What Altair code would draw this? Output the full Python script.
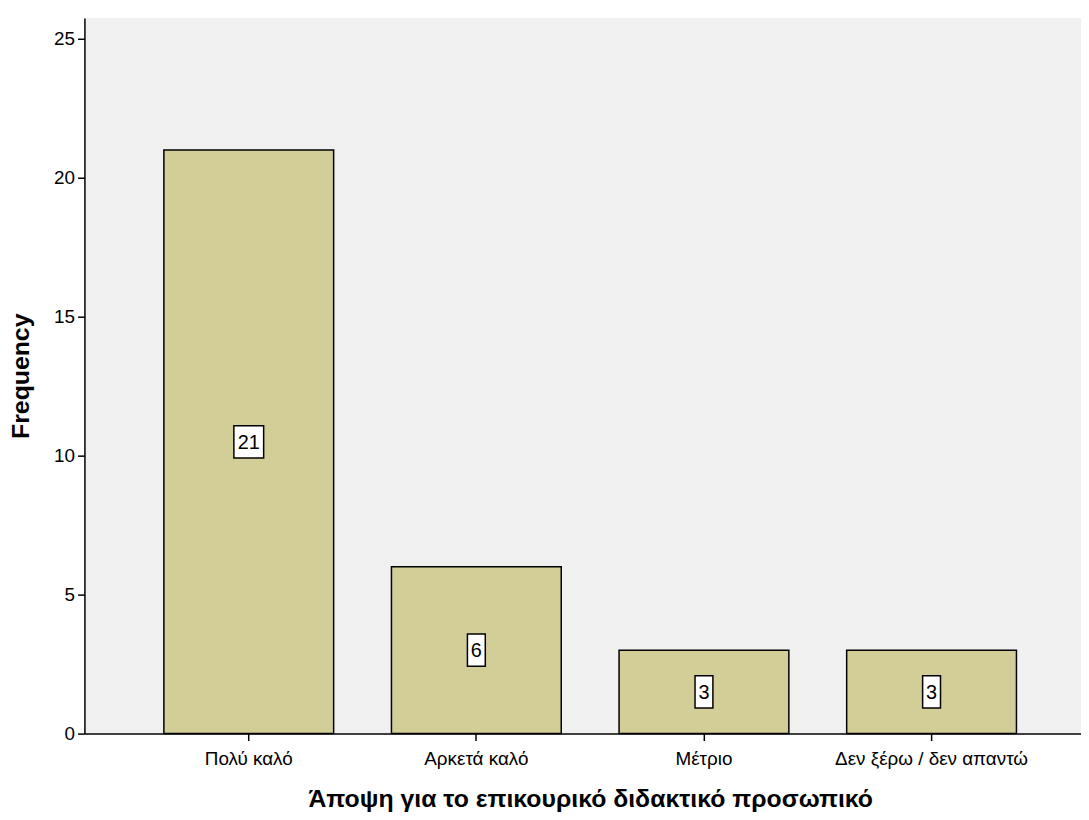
import altair as alt
import pandas as pd

categories = ["Πολύ καλό", "Αρκετά καλό", "Μέτριο", "Δεν ξέρω / δεν απαντώ"]
counts = [21, 6, 3, 3]
labels = ["21", "6", "3", "3"]
box_widths = [30, 18, 18, 18]

df = pd.DataFrame({"cat": categories, "count": counts, "label": labels, "bw": box_widths})

FONT = "Liberation Sans"

x_scale = alt.Scale(paddingInner=0.254, paddingOuter=0.349, range=[0, 1019])

x_enc = alt.X(
    "cat:N",
    sort=categories,
    scale=x_scale,
    axis=alt.Axis(
        title="Άποψη για το επικουρικό διδακτικό προσωπικό",
        labelAngle=0,
        labelFontSize=19,
        labelFont=FONT,
        labelColor="black",
        labelPadding=9,
        labelLimit=500,
        tickSize=7,
        tickColor="black",
        tickWidth=1.5,
        domainColor="black",
        domainWidth=1.5,
        titleFont=FONT,
        titleFontSize=25,
        titleFontWeight="bold",
        titleColor="black",
        titlePadding=18,
        grid=False,
    ),
)

y_scale = alt.Scale(domain=[0, 25.75], nice=False)

bars = alt.Chart(df).mark_bar(
    color="#D3CE98", stroke="black", strokeWidth=1.5
).encode(
    x=x_enc,
    y=alt.Y(
        "count:Q",
        scale=y_scale,
        axis=alt.Axis(
            title="Frequency",
            values=[0, 5, 10, 15, 20, 25],
            labelFontSize=19,
            labelFont=FONT,
            labelColor="black",
            labelPadding=3,
            tickSize=7,
            tickColor="black",
            tickWidth=1.5,
            domainColor="black",
            domainWidth=1.5,
            titleFont=FONT,
            titleFontSize=25,
            titleFontWeight="bold",
            titleColor="black",
            titlePadding=20,
            grid=False,
        ),
    ),
)

boxes = alt.Chart(df).transform_calculate(
    y1="datum.count / 2 - 0.58",
    y2="datum.count / 2 + 0.58",
).mark_bar(color="white", stroke="black", strokeWidth=1.5).encode(
    x=alt.X("cat:N", sort=categories, scale=x_scale),
    y=alt.Y("y1:Q", scale=y_scale),
    y2="y2:Q",
    size=alt.Size("bw:Q", scale=None, legend=None),
)

texts = alt.Chart(df).transform_calculate(
    ym="datum.count / 2",
).mark_text(font=FONT, fontSize=20, color="black", baseline="middle", dy=1).encode(
    x=alt.X("cat:N", sort=categories, scale=x_scale),
    y=alt.Y("ym:Q", scale=y_scale),
    text="label:N",
)

chart = alt.layer(bars, boxes, texts).properties(
    width=1004,
    height=721,
    autosize=alt.AutoSizeParams(type="none"),
    padding={"left": 77, "top": 7, "right": 0, "bottom": 76},
    background="white",
).configure_view(fill="#F0F0F0", stroke=None)

chart.save("out.html", embed_options={"renderer": "svg", "actions": False})
